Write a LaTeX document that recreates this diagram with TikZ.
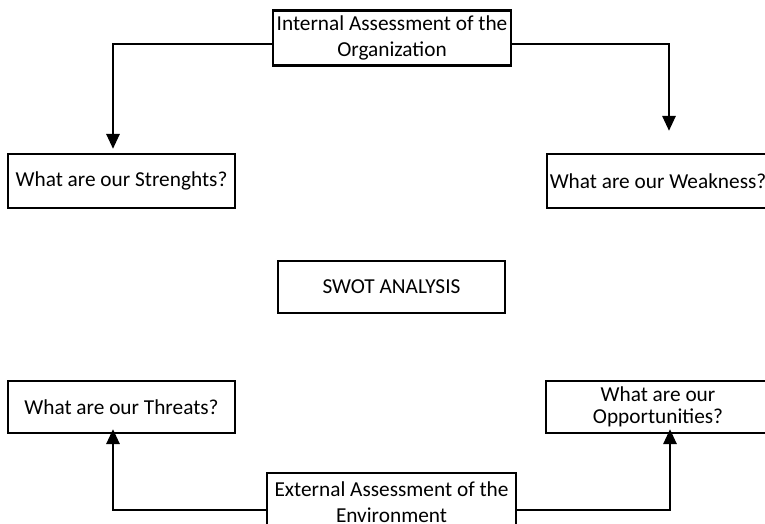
\documentclass[tikz,border=0pt]{standalone}
\usepackage{fontspec}
\setmainfont{Carlito}
\usetikzlibrary{arrows.meta}
\begin{document}
\begin{tikzpicture}[x=1pt,y=-1pt,
  box/.style={draw=black,line width=2.2pt,rectangle,inner sep=0pt,align=center,
    font=\fontsize{21.3}{26.5}\selectfont},
  arr/.style={line width=2.8pt,-{Triangle[length=15pt,width=13pt]}}]
\useasboundingbox (0,0) rectangle (765,524);
\clip (0,0) rectangle (765,524);
\node[box,minimum width=238pt,minimum height=55pt] (internal) at (392,38) {Internal Assessment of the\\Organization};
\node[box,minimum width=227pt,minimum height=54pt] (strengths) at (121.5,181) {What are our Strenghts?};
\node[box,minimum width=222pt,minimum height=54pt] (weakness) at (658,181) {What are our Weakness?};
\node[box,minimum width=227pt,minimum height=52pt] (swot) at (391.5,287) {SWOT ANALYSIS};
\node[box,minimum width=227pt,minimum height=52pt] (threats) at (121.5,407) {What are our Threats?};
\node[box,minimum width=224pt,minimum height=52pt,font=\fontsize{21.3}{21.5}\selectfont] (opps) at (658,407) {What are our\\Opportunities?};
\node[box,minimum width=249pt,minimum height=58pt] (external) at (391.5,502) {External Assessment of the\\Environment};
\draw[arr] ([yshift=-6pt]internal.west) -| ([xshift=-8.5pt,yshift=4pt]strengths.north);
\draw[arr] ([yshift=-6pt]internal.east) -| ([xshift=11pt,yshift=22pt]weakness.north);
\draw[arr] ([yshift=-8pt]external.west) -| ([xshift=-8.5pt,yshift=5pt]threats.south);
\draw[arr] ([yshift=-8pt]external.east) -| ([xshift=12pt,yshift=5pt]opps.south);
\end{tikzpicture}
\end{document}
